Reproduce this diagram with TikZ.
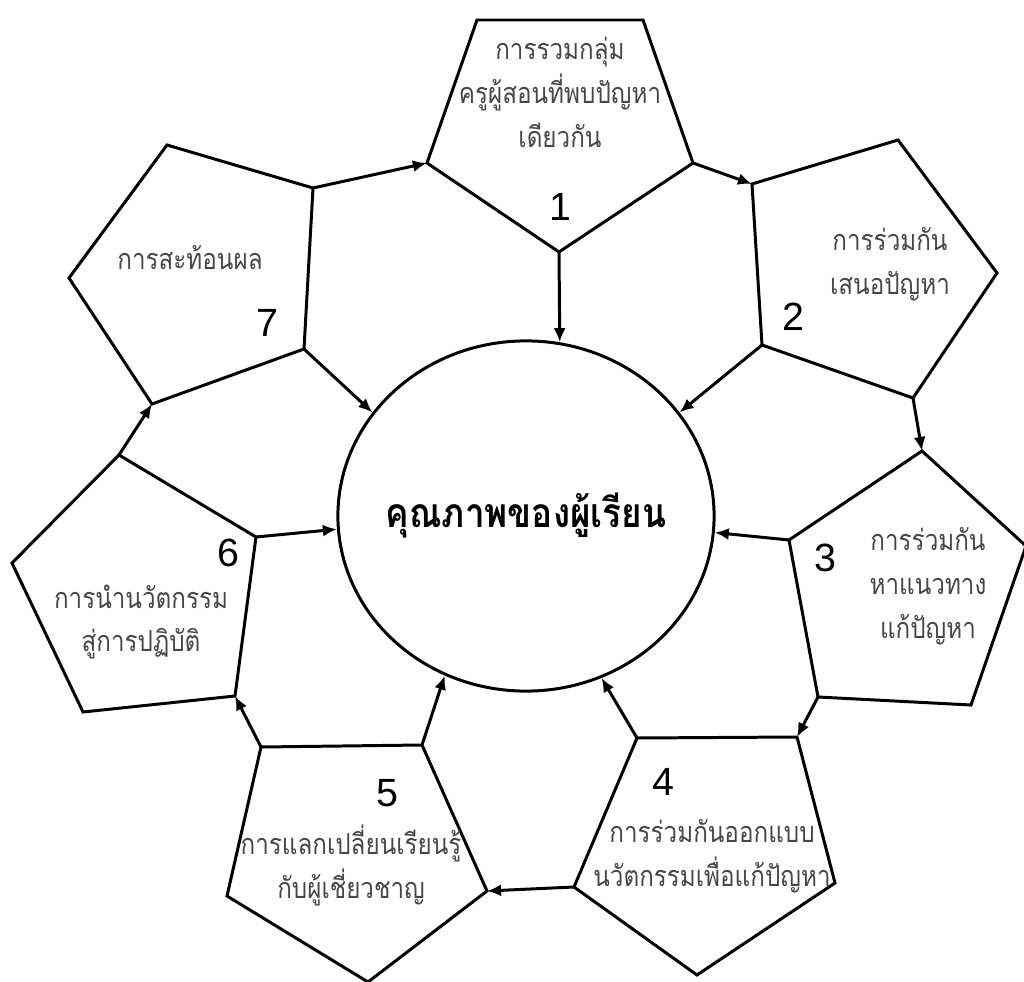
\documentclass[tikz,border=0pt]{standalone}
\usepackage{fontspec}
\newfontfamily\thaifont[Script=Thai,FakeStretch=0.84]{Loma}
\newfontfamily\thaibold[Script=Thai,FakeStretch=0.86]{Loma Bold}
\newfontfamily\numfont{Liberation Sans}
\usetikzlibrary{arrows.meta}
\usetikzlibrary{shapes.geometric}

\begin{document}
\begin{tikzpicture}
[x=0.01cm,y=-0.01cm,line width=0.85pt,%
  every node/.style={inner sep=0pt},%
  stage/.style={align=center,text=black!72,font=\thaifont\fontsize{8.2}{12.5}\selectfont},%
  num/.style={font=\numfont\fontsize{11.2}{13}\selectfont},%
  link/.style={-{Latex[length=4pt,width=3.4pt]}}]
\useasboundingbox (0,0) rectangle (1024,982);
% centre
\node[draw,ellipse,minimum width=3.76cm,minimum height=3.5cm] (core) at (526,516) {};
\node[font=\thaibold\fontsize{11.6}{14}\selectfont] (coretext) at (core) {คุณภาพของผู้เรียน};
% corners of the pentagons
\coordinate (p1a) at (477,20);  \coordinate (p1b) at (643,20);  \coordinate (p1c) at (693,163);
\coordinate (p1d) at (559,252); \coordinate (p1e) at (427,163);
\coordinate (p2a) at (898,140); \coordinate (p2b) at (997,273); \coordinate (p2c) at (913,398);
\coordinate (p2d) at (762,345); \coordinate (p2e) at (752,184);
\coordinate (p3a) at (922,451); \coordinate (p3b) at (1026,546); \coordinate (p3c) at (971,705);
\coordinate (p3d) at (818,697); \coordinate (p3e) at (789,540);
\coordinate (p4a) at (637,738); \coordinate (p4b) at (797,737); \coordinate (p4c) at (835,883);
\coordinate (p4d) at (697,975); \coordinate (p4e) at (574,887);
\coordinate (p5a) at (261,747); \coordinate (p5b) at (422,745); \coordinate (p5c) at (487,891);
\coordinate (p5d) at (368,982); \coordinate (p5e) at (227,896);
\coordinate (p6a) at (119,455); \coordinate (p6b) at (256,537); \coordinate (p6c) at (235,696);
\coordinate (p6d) at (83,712);  \coordinate (p6e) at (12,563);
\coordinate (p7a) at (167,145); \coordinate (p7b) at (313,188); \coordinate (p7c) at (304,349);
\coordinate (p7d) at (152,404); \coordinate (p7e) at (69,278);
\foreach \p in {1,...,7}
  \draw[line join=miter] (p\p a) -- (p\p b) -- (p\p c) -- (p\p d) -- (p\p e) -- cycle;
% texts
\node[stage] (t1) at (560,92) {การรวมกลุ่ม\\ครูผู้สอนที่พบปัญหา\\เดียวกัน};
\node[stage] (t2) at (890,264) {การร่วมกัน\\เสนอปัญหา};
\node[stage] (t3) at (928,586) {การร่วมกัน\\หาแนวทาง\\แก้ปัญหา};
\node[stage] (t4) at (712,856) {การร่วมกันออกแบบ\\นวัตกรรมเพื่อแก้ปัญหา};
\node[stage] (t5) at (351,865) {การแลกเปลี่ยนเรียนรู้\\กับผู้เชี่ยวชาญ};
\node[stage] (t6) at (141,622) {การนำนวัตกรรม\\สู่การปฏิบัติ};
\node[stage] (t7) at (190,258) {การสะท้อนผล};
\node[num] (n1) at (560,207) {1};
\node[num] (n2) at (793,317) {2};
\node[num] (n3) at (825,558) {3};
\node[num] (n4) at (663,782) {4};
\node[num] (n5) at (387,793) {5};
\node[num] (n6) at (228,553) {6};
\node[num] (n7) at (267,323) {7};
% arrows round the ring
\draw[link] (p7b) -- (p1e);
\draw[link] (p1c) -- (p2e);
\draw[link] (p2c) -- (p3a);
\draw[link] (p3d) -- (p4b);
\draw[link] (p4e) -- (p5c);
\draw[link] (p5a) -- (p6c);
\draw[link] (p6a) -- (p7d);
% arrows into the centre
\draw[link] (p1d) -- (core.79);
\draw[link] (p2d) -- (core.34);
\draw[link] (p3e) -- (core.-5);
\draw[link] (p4a) -- (core.-65);
\draw[link] (p5b) -- (core.-117);
\draw[link] (p6b) -- (core.184);
\draw[link] (p7c) -- (core.146);
\end{tikzpicture}
\end{document}
